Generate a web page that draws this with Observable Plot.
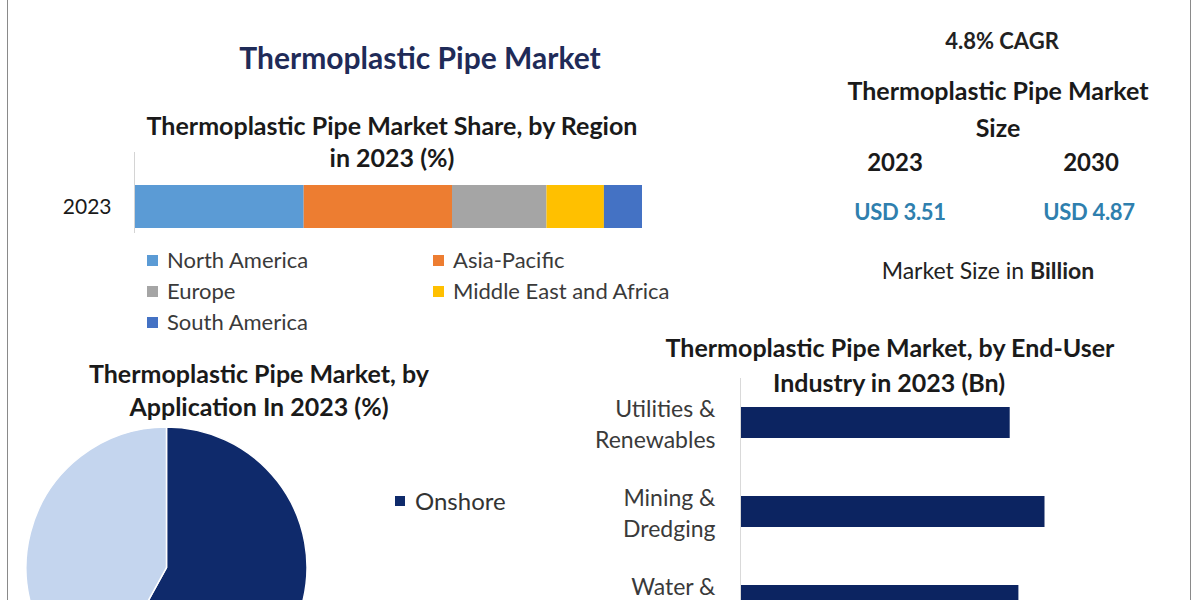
<!DOCTYPE html>
<html><head><meta charset="utf-8">
<script src="https://cdn.jsdelivr.net/npm/d3@7"></script>
<script src="https://cdn.jsdelivr.net/npm/@observablehq/plot@0.6"></script>
<style>
html,body{margin:0;padding:0;background:#fff;overflow:hidden;}
#root{position:relative;width:1200px;height:600px;overflow:hidden;background:#fff;font-family:Lato,"Open Sans",sans-serif;color:#1a1a1a;}
.t{position:absolute;transform:translate(-50%,-50%);white-space:nowrap;line-height:1;}
.abs{position:absolute;}
.sw{position:absolute;width:11px;height:11px;}
.lg{position:absolute;transform:translateY(-50%);white-space:nowrap;line-height:1;font-size:22px;color:#3a3a3a;}
</style></head><body><div id="root"></div>
<script>
// ---- data ----
const regions = ["North America", "Asia-Pacific", "Europe", "Middle East and Africa", "South America"];
const regionShare = [33.4, 29.2, 18.6, 11.3, 7.5];
const regionYear = "2023";
const regionColors = ["#5b9bd5", "#ed7d31", "#a5a5a5", "#ffc000", "#4472c4"];

const applications = ["Onshore", "Offshore"];
const applicationShare = [58, 42];
const applicationColors = ["#0f2a6b", "#c4d5ee"];

const industries = ["Utilities & Renewables", "Mining & Dredging", "Water & Wastewater"];
const industryValue = [0.62, 0.70, 0.64];

const marketYears = ["2023", "2030"];
const marketSize = [3.51, 4.87];
const cagr = 4.8;

// ---- helpers ----
const root = document.getElementById("root");
function text(html, cx, cy, style) {
  const d = document.createElement("div");
  d.className = "t";
  d.innerHTML = html;
  d.style.left = cx + "px";
  d.style.top = cy + "px";
  Object.assign(d.style, style || {});
  root.appendChild(d);
  return d;
}
function place(node, left, top) {
  node.style.position = "absolute";
  node.style.left = left + "px";
  node.style.top = top + "px";
  root.appendChild(node);
}
function vline(x) {
  const d = document.createElement("div");
  d.className = "abs";
  Object.assign(d.style, {left: x + "px", top: "0px", width: "1px", height: "600px", background: "#8a8a8a"});
  root.appendChild(d);
}
vline(7); vline(1190);

// ---- titles ----
text("Thermoplastic Pipe Market", 420, 57, {fontSize: "30px", fontWeight: "700", color: "#1f2b58"});
text("Thermoplastic Pipe Market Share, by Region", 392, 125, {fontSize: "25px", fontWeight: "700"});
text("in 2023 (%)", 392, 157, {fontSize: "25px", fontWeight: "700"});

// ---- region stacked bar ----
const regionData = regions.map((r, i) => ({region: r, share: regionShare[i], year: regionYear}));
const regionPlot = Plot.plot({
  width: 700, height: 83,
  marginLeft: 134, marginRight: 58, marginTop: 35, marginBottom: 5,
  style: {fontFamily: "Lato, sans-serif", background: "transparent", color: "#1a1a1a"},
  x: {domain: [0, 100], axis: null},
  y: {domain: [regionYear], padding: 0},
  color: {domain: regions, range: regionColors},
  marks: [
    Plot.barX(regionData, {x: "share", y: "year", fill: "region"}),
    Plot.ruleX([0], {stroke: "#d4d4d4", insetTop: -33, insetBottom: -5}),
    Plot.axisY({tickSize: 0, tickPadding: 23, fontSize: 21, label: null})
  ]
});
place(regionPlot, 0, 150);

// region legend
const legendPos = [[147, 260], [433, 260], [147, 291], [433, 291], [147, 322]];
regions.forEach((r, i) => {
  const [x, y] = legendPos[i];
  const s = document.createElement("div");
  s.className = "sw";
  Object.assign(s.style, {left: x + "px", top: (y - 5) + "px", background: regionColors[i]});
  root.appendChild(s);
  const l = document.createElement("div");
  l.className = "lg";
  l.textContent = r;
  Object.assign(l.style, {left: (x + 20) + "px", top: y + "px"});
  root.appendChild(l);
});

// ---- right panel ----
text(`${cagr}% CAGR`, 1002, 41, {fontSize: "22px", fontWeight: "700", color: "#222"});
text("Thermoplastic Pipe Market", 998, 90, {fontSize: "25px", fontWeight: "700"});
text("Size", 998, 127, {fontSize: "25px", fontWeight: "700"});
const yearX = [895, 1091];
const usdX = [900, 1089];
marketYears.forEach((y, i) => {
  text(y, yearX[i], 162, {fontSize: "24px", fontWeight: "700"});
  text(`USD ${marketSize[i].toFixed(2)}`, usdX[i], 212, {fontSize: "22px", fontWeight: "700", color: "#2f7fae", letterSpacing: "-0.3px"});
});
text("Market Size in <b>Billion</b>", 988, 270, {fontSize: "23px", color: "#222"});

// ---- pie ----
text("Thermoplastic Pipe Market, by", 259, 373, {fontSize: "25px", fontWeight: "700"});
text("Application In 2023 (%)", 259, 406, {fontSize: "25px", fontWeight: "700"});
const pieData = applications.map((a, i) => ({app: a, share: applicationShare[i]}));
function pieMark(index, scales, values, dims) {
  const cx = scales.x(0), cy = scales.y(0), r = scales.x(1) - scales.x(0);
  const g = d3.create("svg:g");
  const grad = g.append("defs").append("radialGradient")
    .attr("id", "pieLight").attr("gradientUnits", "userSpaceOnUse")
    .attr("cx", cx - 70).attr("cy", cy - 15).attr("r", r * 0.95);
  grad.append("stop").attr("offset", "0%").attr("stop-color", "#b2c7e6");
  grad.append("stop").attr("offset", "100%").attr("stop-color", scales.color("Offshore"));
  const arcs = d3.pie().sort(null).value(d => d.share)(pieData);
  const arc = d3.arc().innerRadius(0).outerRadius(r);
  g.selectAll("path").data(arcs).join("path")
    .attr("transform", `translate(${cx},${cy})`)
    .attr("d", arc)
    .attr("fill", d => d.data.app === "Offshore" ? "url(#pieLight)" : scales.color(d.data.app))
    .attr("stroke", "#fff").attr("stroke-width", 1.5);
  return g.node();
}
const piePlot = Plot.plot({
  width: 340, height: 300,
  style: {background: "transparent"},
  x: {domain: [-1, 1], range: [26, 307], axis: null},
  y: {domain: [1, -1], range: [7, 288], axis: null},
  color: {domain: applications, range: applicationColors},
  marks: [
    Plot.dot(pieData, {x: () => 0, y: () => 0, fill: "app", r: 0}),
    pieMark
  ]
});
place(piePlot, 0, 420);
// pie legend
{
  const s = document.createElement("div");
  s.className = "sw";
  Object.assign(s.style, {left: "395px", top: "496px", width: "10px", height: "10px", background: applicationColors[0]});
  root.appendChild(s);
  const l = document.createElement("div");
  l.className = "lg";
  l.textContent = applications[0];
  Object.assign(l.style, {left: "415px", top: "501px", fontSize: "24px", color: "#333"});
  root.appendChild(l);
}

// ---- end-user industry bars ----
text("Thermoplastic Pipe Market, by End-User", 890, 347, {fontSize: "25px", fontWeight: "700"});
text("Industry in 2023 (Bn)", 889, 382, {fontSize: "25px", fontWeight: "700"});
const industryData = industries.map((c, i) => ({industry: c, value: industryValue[i]}));
const industryPlot = Plot.plot({
  width: 640, height: 267,
  marginLeft: 180, marginRight: 25, marginTop: 0, marginBottom: 0,
  style: {fontFamily: "Lato, sans-serif", background: "transparent", color: "#3a3a3a"},
  x: {domain: [0, 1], axis: null},
  y: {domain: industries, paddingInner: 0.652, paddingOuter: 0.326},
  marks: [
    Plot.barX(industryData, {x: "value", y: "industry", fill: "#0c2461"}),
    Plot.ruleX([0], {stroke: "#d9d9d9"}),
    Plot.axisY({tickSize: 0, tickPadding: 25, fontSize: 23, lineHeight: 1.35, label: null,
      tickFormat: d => d.replace(" & ", " &\n")})
  ]
});
place(industryPlot, 560, 378);
</script></body></html>
